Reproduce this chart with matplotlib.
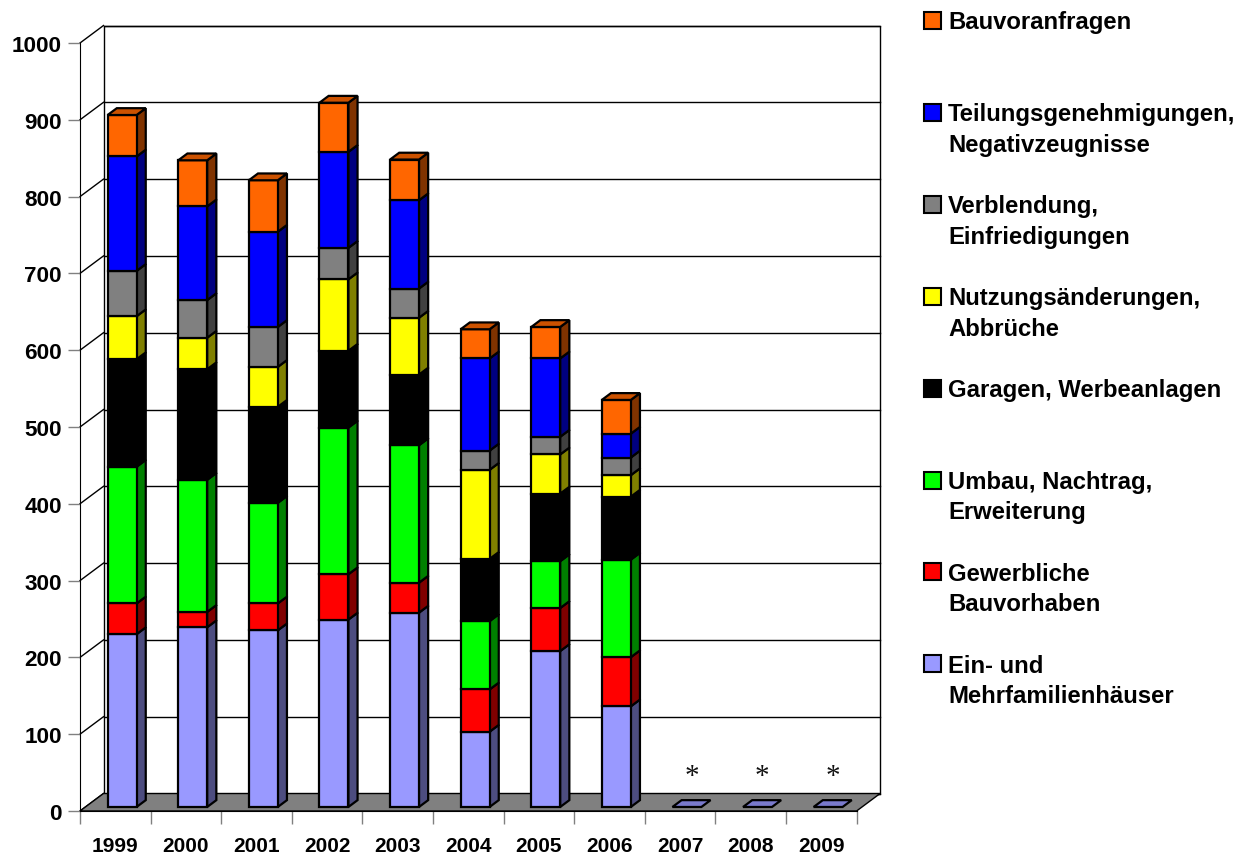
import numpy as np
import matplotlib
matplotlib.use("Agg")
import matplotlib.pyplot as plt
from matplotlib.patches import Polygon, Rectangle

plt.rcParams['font.family'] = ['Liberation Sans', 'DejaVu Sans']

# Daten (Anzahl Bauanträge je Jahr)
jahre = ["1999", "2000", "2001", "2002", "2003", "2004", "2005", "2006", "2007", "2008", "2009"]
ein_mehrfamilien = [225, 234, 230, 244, 253, 98, 203, 131, 0, 0, 0]
gewerblich = [40, 20, 35, 59, 39, 55, 56, 64, 0, 0, 0]
umbau = [178, 172, 131, 191, 179, 89, 61, 127, 0, 0, 0]
garagen = [140, 144, 125, 100, 92, 81, 88, 82, 0, 0, 0]
nutzung = [56, 41, 52, 93, 74, 116, 51, 28, 0, 0, 0]
verblendung = [59, 49, 52, 41, 38, 25, 23, 23, 0, 0, 0]
teilung = [149, 122, 124, 125, 115, 120, 102, 31, 0, 0, 0]
bauvoranfragen = [54, 60, 67, 64, 53, 38, 41, 44, 0, 0, 0]
ohne_daten = ["2007", "2008", "2009"]

serien = [ein_mehrfamilien, gewerblich, umbau, garagen, nutzung, verblendung, teilung, bauvoranfragen]
farben = ['#9999ff', '#ff0000', '#00ff00', '#000000', '#ffff00', '#808080', '#0000ff', '#ff6600']
namen = ["Ein- und\nMehrfamilienhäuser", "Gewerbliche\nBauvorhaben", "Umbau, Nachtrag,\nErweiterung",
         "Garagen, Werbeanlagen", "Nutzungsänderungen,\nAbbrüche", "Verblendung,\nEinfriedigungen",
         "Teilungsgenehmigungen,\nNegativzeugnisse", "Bauvoranfragen"]


def abdunkeln(farbe, f):
    r, g, b = matplotlib.colors.to_rgb(farbe)
    return (r * f, g * f, b * f)


W, H = 1251, 854
fig = plt.figure(figsize=(W / 100, H / 100), dpi=100)
ax = fig.add_axes([80 / W, 42 / H, 776.6 / W, 768 / H])
ax.set_xlim(0, 11)
ax.set_ylim(0, 1000)
ax.patch.set_visible(False)

# 3D-Tiefe in Dateneinheiten
px_x = 70.6
px_y = 0.768
DX = 23.5 / px_x
DY = 17.5 / px_y

# Rückwand, Gitter, Seitenwand, Boden
ax.add_patch(Polygon([(DX, DY), (11 + DX, DY), (11 + DX, 1000 + DY), (DX, 1000 + DY)],
                     closed=True, facecolor='white', edgecolor='black', lw=1, clip_on=False, zorder=0))
for v in range(0, 1001, 100):
    ax.plot([DX, 11 + DX], [v + DY, v + DY], color='black', lw=1, clip_on=False, zorder=0.5)
    ax.plot([0, DX], [v, v + DY], color='black', lw=1, clip_on=False, zorder=0.5)
ax.add_patch(Polygon([(0, 0), (11, 0), (11 + DX, DY), (DX, DY)],
                     closed=True, facecolor='#808080', edgecolor='black', lw=1, clip_on=False, zorder=1))

# Säulen
tiefe_vorn = 0.23
tiefe_saeule = 0.39
offx, offy = tiefe_vorn * DX, tiefe_vorn * DY
ddx, ddy = tiefe_saeule * DX, tiefe_saeule * DY
breite = 0.41
x_links = np.arange(11) + 0.315 + offx

unten = np.zeros(11)
for werte, farbe in zip(serien, farben):
    werte = np.array(werte, dtype=float)
    for i in range(11):
        if werte[i] <= 0:
            continue
        x1 = x_links[i] + breite
        b = unten[i] + offy
        t = b + werte[i]
        ax.add_patch(Polygon([(x1, b), (x1 + ddx, b + ddy), (x1 + ddx, t + ddy), (x1, t)], closed=True,
                             facecolor=abdunkeln(farbe, 0.5), edgecolor='black', lw=1.6,
                             clip_on=False, zorder=3))
    mask = werte > 0
    ax.bar(x_links[mask], werte[mask], width=breite, bottom=unten[mask] + offy, align='edge',
           color=farbe, edgecolor='black', lw=1.6, zorder=4, clip_on=False)
    unten += werte

for i in range(11):
    oben_farbe = farben[0]
    for werte, farbe in zip(serien, farben):
        if werte[i] > 0:
            oben_farbe = farbe
    x0 = x_links[i]
    x1 = x0 + breite
    T = unten[i] + offy
    ax.add_patch(Polygon([(x0, T), (x1, T), (x1 + ddx, T + ddy), (x0 + ddx, T + ddy)], closed=True,
                         facecolor=abdunkeln(oben_farbe, 0.8), edgecolor='black', lw=1.6,
                         clip_on=False, zorder=5))

for jahr in ohne_daten:
    i = jahre.index(jahr)
    ax.text(i + 0.664, 36, '*', ha='center', va='baseline', fontsize=21,
            family='Liberation Serif', color='#111111', zorder=6)

# Achsen
for s in ['top', 'right']:
    ax.spines[s].set_visible(False)
ax.spines['left'].set_color('black')
ax.spines['bottom'].set_color('black')
ax.spines['left'].set_zorder(2)
ax.spines['bottom'].set_zorder(2)

ax.set_yticks(range(0, 1001, 100))
ax.tick_params(axis='y', direction='out', length=9, width=1, color='#808080', pad=4)
for lab in ax.get_yticklabels():
    lab.set_fontsize(16.2)
    lab.set_fontweight('bold')

ax.set_xticks(range(12))
ax.set_xticklabels([])
ax.set_xticks(np.arange(11) + 0.5, minor=True)
ax.set_xticklabels(jahre, minor=True, fontsize=15, fontweight='bold')
ax.tick_params(axis='x', which='major', direction='out', length=9, width=1, color='#808080')
ax.tick_params(axis='x', which='minor', length=0, pad=18)

# Legende
lg = fig.add_axes([0, 0, 1, 1], zorder=-1)
lg.set_xlim(0, W)
lg.set_ylim(H, 0)
lg.axis('off')
mitte0 = 21.5
abstand = 91.9
for j, (name, farbe) in enumerate(zip(namen[::-1], farben[::-1])):
    yc = mitte0 + j * abstand
    lg.add_patch(Rectangle((924, yc - 8.5), 17, 17, facecolor=farbe, edgecolor='black', lw=1.5))
    for z, zeile in enumerate(name.split("\n")):
        lg.text(948, yc + 8 + z * 30.5, zeile, fontsize=17.2, fontweight='bold',
                ha='left', va='baseline')

fig.savefig("out.png", dpi=100)
plt.close(fig)
